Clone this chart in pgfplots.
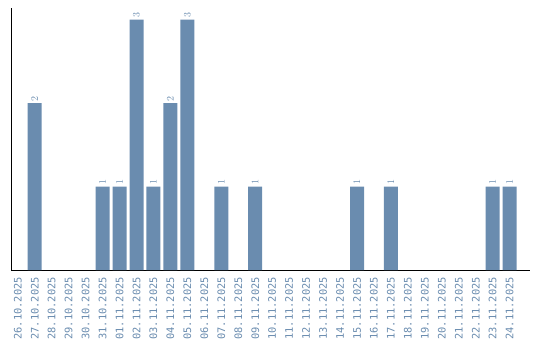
\documentclass[border=0pt]{standalone}
\usepackage{pgfplots}
\pgfplotsset{compat=1.18}
\usepackage{fontspec}
\setmonofont{DejaVu Sans Mono}
\definecolor{barc}{HTML}{6A8CAF}
\begin{document}
\begin{tikzpicture}
\path[use as bounding box] (-11bp,-70bp) rectangle (529bp,270bp);
\begin{axis}[
  at={(0,0)}, anchor=south west,
  scale only axis, width=519bp, height=262bp,
  xmin=-0.4, xmax=30.2, ymin=0, ymax=3.14,
  axis x line*=bottom, axis y line*=left,
  axis line style={black, line width=1bp, -},
  ytick=\empty,
  xtick={0,...,29},
  xticklabels={26.10.2025,27.10.2025,28.10.2025,29.10.2025,30.10.2025,31.10.2025,01.11.2025,02.11.2025,03.11.2025,04.11.2025,05.11.2025,06.11.2025,07.11.2025,08.11.2025,09.11.2025,10.11.2025,11.11.2025,12.11.2025,13.11.2025,14.11.2025,15.11.2025,16.11.2025,17.11.2025,18.11.2025,19.11.2025,20.11.2025,21.11.2025,22.11.2025,23.11.2025,24.11.2025},
  major tick length=0pt,
  x tick label style={rotate=90, anchor=east, font=\ttfamily\fontsize{10.4}{11}\selectfont, text=barc, inner sep=0pt},
  xticklabel shift=7bp,
  nodes near coords,
  every node near coord/.append style={rotate=90, anchor=west, font=\ttfamily\fontsize{10.4}{11}\selectfont, text=barc, inner sep=1.5bp},
  clip=false,
]
\addplot[ybar, bar width=14bp, fill=barc, draw=none] coordinates {
(1,2) (5,1) (6,1) (7,3) (8,1) (9,2) (10,3) (12,1) (14,1) (20,1) (22,1) (28,1) (29,1)
};
\end{axis}
\end{tikzpicture}
\end{document}
